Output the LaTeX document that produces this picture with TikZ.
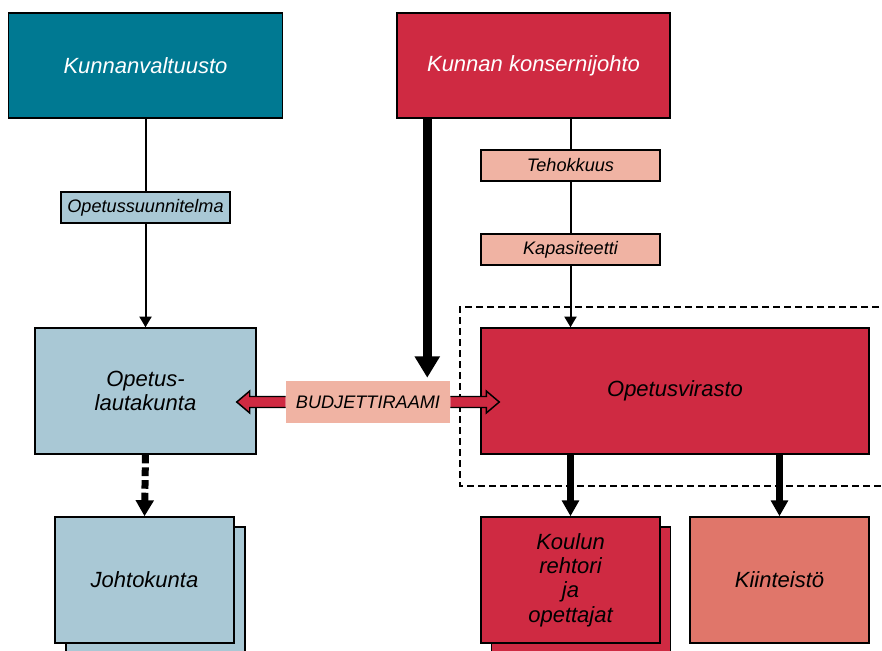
\documentclass[tikz,border=0pt]{standalone}
\usepackage{fontspec}
\setmainfont{Liberation Sans}
\usetikzlibrary{arrows.meta,calc}

\definecolor{cTeal}{RGB}{0,121,146}
\definecolor{cCrimson}{RGB}{207,42,66}
\definecolor{cBlue}{RGB}{169,200,213}
\definecolor{cSalmon}{RGB}{240,179,163}
\definecolor{cCoral}{RGB}{224,118,106}

% block arrow leaving the budget label: #1 anchor, #2 direction (+1 right, -1 left)
\newcommand\budarrow[2]{%
  \fill[cCrimson] ($(#1)+(0,-5.5)$) -- ++({#2*36},0) -- ++(0,-5.5) -- ++({#2*13},11)
     -- ++({-#2*13},11) -- ++(0,-5.5) -- ($(#1)+(0,5.5)$) -- cycle;
  \draw[line width=1.1pt, line join=miter] ($(#1)+(0,-5.5)$) -- ++({#2*36},0) -- ++(0,-5.5) -- ++({#2*13},11)
     -- ++({-#2*13},11) -- ++(0,-5.5) -- ($(#1)+(0,5.5)$);
}

\begin{document}
\begin{tikzpicture}[x=0.75pt,y=-0.75pt,
  box/.style={draw=black, line width=1.1pt, minimum width=134.25pt, minimum height=94.5pt,
    inner sep=2pt, align=center, font=\fontsize{16.5}{18.2}\selectfont\itshape},
  tag/.style={draw=black, line width=1.1pt, minimum width=134.25pt, minimum height=23.25pt,
    inner sep=1pt, font=\fontsize{13.6}{15}\selectfont\itshape},
  thinline/.style={line width=1.5pt},
  thinarrow/.style={line width=1.5pt, -{Triangle[width=9pt,length=8pt]}},
  fatarrow/.style={line width=6.75pt, -{Triangle[width=18pt,length=16pt]}},
  midarrow/.style={line width=5.25pt, -{Triangle[width=12.5pt,length=12pt]}},
  dotarrow/.style={line width=5.25pt, dash pattern=on 6.5pt off 3pt, -{Triangle[width=13pt,length=12pt]}},
  frame/.style={line width=1.5pt, dash pattern=on 5.25pt off 3pt},
]
\useasboundingbox (0,0) rectangle (882,650);

% dashed frame around the education office
\draw[frame] (890,307) -- (460,307) -- (460,486) -- (890,486);

% top level
\node[box, fill=cTeal, text=white, minimum width=205.5pt, minimum height=78.75pt] (kv) at (145.5,65.5) {Kunnanvaltuusto};
\node[box, fill=cCrimson, text=white, minimum width=204.75pt, minimum height=78.75pt] (kk) at (533.5,65.5) {Kunnan konsernijohto};

% labels on the links
\node[tag, fill=cBlue, minimum width=126.75pt] (ops) at (145.5,207.5) {Opetussuunnitelma};
\node[tag, fill=cSalmon] (teh) at (570.5,165.5) {Tehokkuus};
\node[tag, fill=cSalmon] (kap) at (570.5,249.5) {Kapasiteetti};

% middle level
\node[box, fill=cBlue, minimum width=165.75pt] (ol) at (145.5,391) {Opetus-\\lautakunta};
\node[box, fill=cCrimson, minimum width=291pt] (ov) at (675,391) {Opetusvirasto};
\node[fill=cSalmon, minimum width=123pt, minimum height=31.5pt, inner sep=0pt,
  font=\fontsize{13.6}{15}\selectfont\itshape] (bud) at (368,402) {BUDJETTIRAAMI};

% bottom level (stacked boxes)
\node[box, fill=cBlue] (jkb) at (155.5,590) {};
\node[box, fill=cBlue] (jk) at (144.5,580) {Johtokunta};
\node[box, fill=cCrimson] (krb) at (581,590) {};
\node[box, fill=cCrimson] (kr) at (570.5,580) {Koulun\\rehtori\\ja\\opettajat};
\node[box, fill=cCoral] (ki) at (779.5,580) {Kiinteistö};

% connectors
\draw[thinline] (ops.north |- kv.south) -- (ops.north);
\draw[thinarrow] (ops.south) -- (ol.north);
\draw[thinline] (teh.north |- kk.south) -- (teh.north);
\draw[thinline] (teh.south) -- (kap.north);
\draw[thinarrow] (kap.south) -- (kap.south |- ov.north);

\coordinate (kkfoot) at ($(kk.south west)+(31,0)$);
\draw[fatarrow, shorten >=2.25pt] (kkfoot) -- (kkfoot |- bud.north);

\draw[midarrow] (ov.south -| kr.north) -- (kr.north);
\draw[midarrow] (ov.south -| ki.north) -- (ki.north);
\draw[dotarrow] (ol.south) -- (jk.north);

\budarrow{bud.west}{-1}
\budarrow{bud.east}{1}
\end{tikzpicture}
\end{document}
